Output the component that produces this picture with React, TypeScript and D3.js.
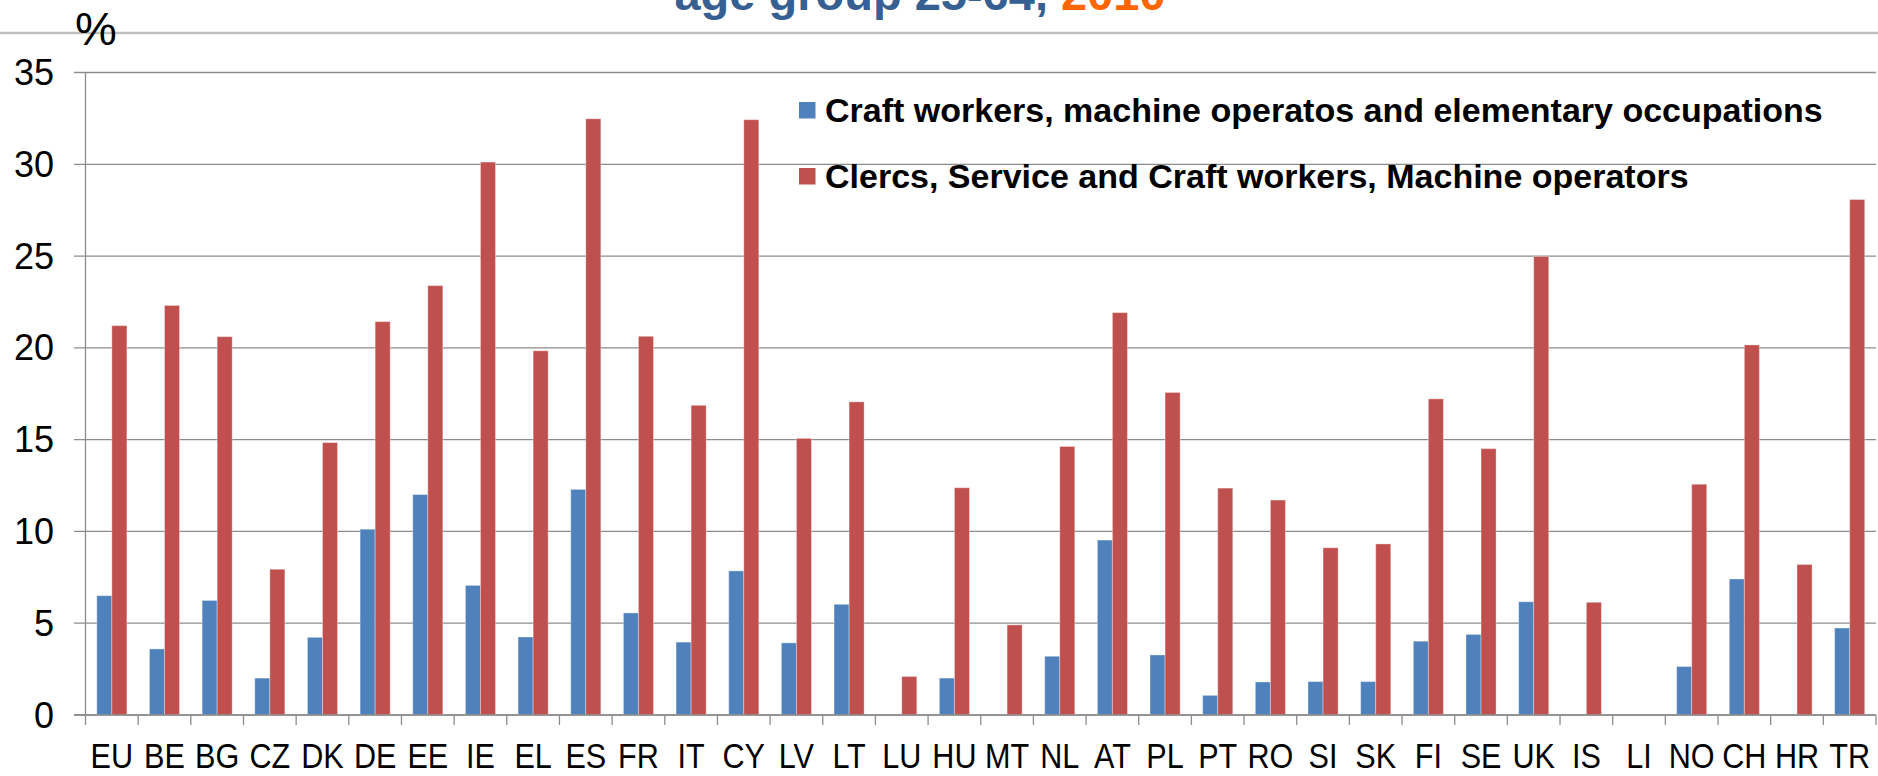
import React from "react";
import * as d3 from "d3";

const categories = ["EU","BE","BG","CZ","DK","DE","EE","IE","EL","ES","FR","IT","CY","LV","LT","LU","HU","MT","NL","AT","PL","PT","RO","SI","SK","FI","SE","UK","IS","LI","NO","CH","HR","TR"];
const craftValues: (number | null)[] = [6.5,3.6,6.24,2.01,4.23,10.12,12.01,7.06,4.25,12.29,5.56,3.97,7.85,3.93,6.03,null,2.01,null,3.2,9.53,3.27,1.07,1.8,1.82,1.82,4.02,4.39,6.17,null,null,2.64,7.41,null,4.74];
const clercValues: (number | null)[] = [21.21,22.31,20.61,7.94,14.84,21.43,23.39,30.12,19.84,32.48,20.63,16.87,32.43,15.07,17.06,2.1,12.38,4.91,14.63,21.92,17.57,12.36,11.71,9.11,9.32,17.22,14.51,24.98,6.14,null,12.57,20.16,8.2,28.08];
const yTicks = [0,5,10,15,20,25,30,35];
const seriesNames = ["Craft workers, machine operatos and elementary occupations","Clercs, Service and Craft workers, Machine operators"];
const seriesColors = ["#4F81BD","#C0504D"];

const W = 1878, H = 776;
const X0 = 85.5, X1 = 1876, Y0 = 715, Y1 = 72.5;
const GRID = "#8C8C8C";
const FONT = "'Liberation Sans', Arial, sans-serif";

export default function App() {
  const x = d3.scaleBand<string>().domain(categories).range([X0, X1]).paddingInner(0).paddingOuter(0);
  const y = d3.scaleLinear().domain([0, 35]).range([Y0, Y1]);
  const bw = x.bandwidth() / 3.5;
  const series = [craftValues, clercValues];

  return (
    <svg width={W} height={H} style={{ position: "absolute", left: 0, top: 0, display: "block", background: "#fff" }} fontFamily={FONT}>
      {/* top divider line */}
      <line x1={0} x2={W} y1={33} y2={33} stroke="#BFBFBF" strokeWidth={2.5} />
      {/* title (clipped at top, as in the reference) */}
      <text x={920} y={10} textAnchor="middle" fontSize={47} fontWeight="bold">
        <tspan fill="#376092">age group 25-64, </tspan>
        <tspan fill="#FF6600">2010</tspan>
      </text>
      {/* % unit */}
      <text x={75} y={45} fontSize={47} fill="#000">%</text>

      {/* gridlines */}
      {yTicks.map((t) => (
        <g key={t}>
          <line x1={74} x2={X1} y1={y(t)} y2={y(t)} stroke={GRID} strokeWidth={1.3} />
          <text x={54} y={y(t)} dy="0.35em" textAnchor="end" fontSize={36} fill="#000">{t}</text>
        </g>
      ))}
      {/* y axis */}
      <line x1={X0} x2={X0} y1={Y1} y2={Y0} stroke={GRID} strokeWidth={1.3} />
      {/* x tick marks */}
      {categories.map((c) => (
        <line key={"t" + c} x1={x(c)!} x2={x(c)!} y1={Y0} y2={Y0 + 10} stroke={GRID} strokeWidth={1.3} />
      ))}
      <line x1={X1} x2={X1} y1={Y0} y2={Y0 + 10} stroke={GRID} strokeWidth={1.3} />

      {/* bars */}
      {series.map((vals, si) =>
        vals.map((v, i) => {
          if (v === null) return null;
          const c = categories[i];
          const cx = x(c)! + x.bandwidth() / 2;
          const bx = si === 0 ? cx - bw : cx;
          return (
            <rect key={si + "-" + c} x={bx} y={y(v)} width={bw} height={Y0 - y(v)} fill={seriesColors[si]} stroke="#ffffff" strokeOpacity={0.35} strokeWidth={1} />
          );
        })
      )}
      {/* x axis line on top */}
      <line x1={74} x2={X1} y1={Y0} y2={Y0} stroke={GRID} strokeWidth={1.3} />

      {/* x labels */}
      {categories.map((c) => (
        <text key={"l" + c} transform={`translate(${x(c)! + x.bandwidth() / 2},768) scale(0.85,1)`} textAnchor="middle" fontSize={36} fill="#000">{c}</text>
      ))}

      {/* legend */}
      {seriesNames.map((n, i) => (
        <g key={n}>
          <rect x={799} y={102 + i * 66} width={16.5} height={16.5} fill={seriesColors[i]} />
          <text x={825} y={122 + i * 66} fontSize={34} fontWeight="bold" fill="#000">{n}</text>
        </g>
      ))}
    </svg>
  );
}
